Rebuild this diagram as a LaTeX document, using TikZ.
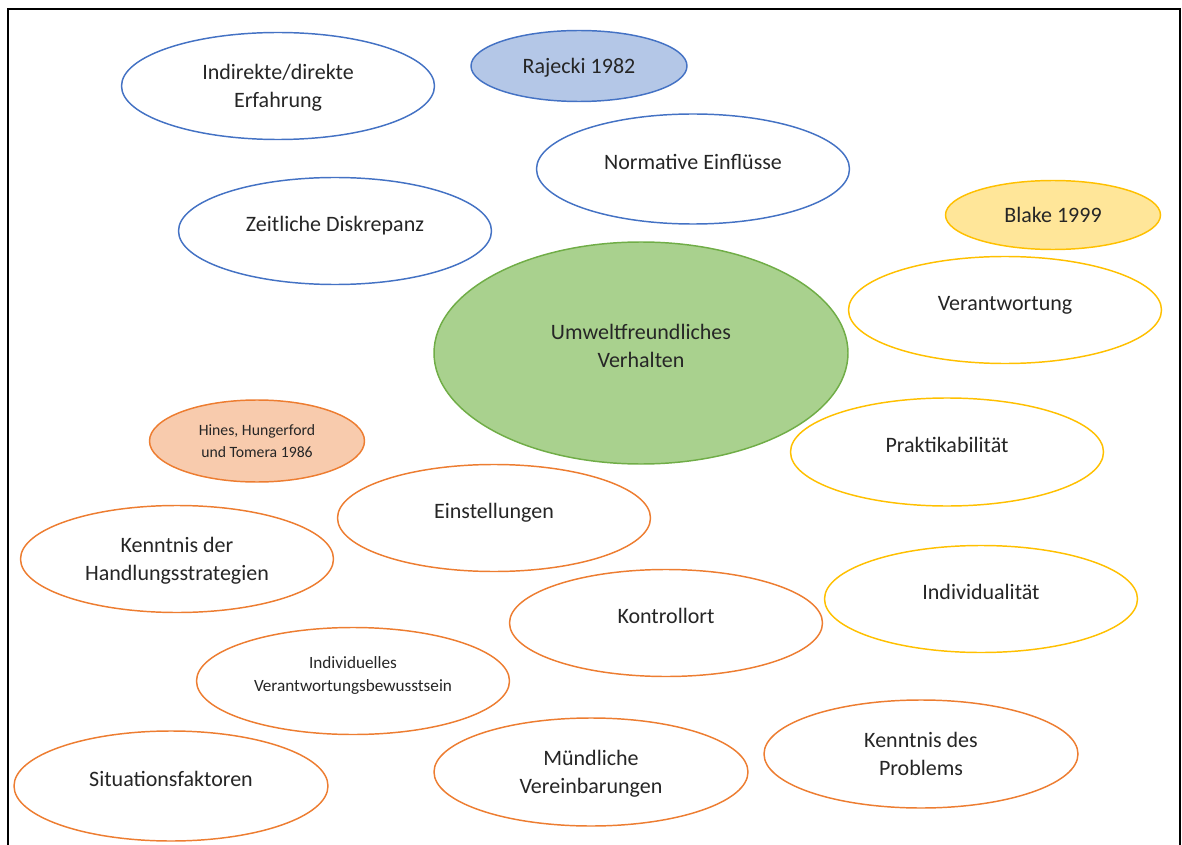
\documentclass[tikz,border=0pt]{standalone}
\usepackage{fontspec}
\setmainfont{Carlito}
\usetikzlibrary{shapes.geometric}

\definecolor{blueline}{HTML}{4472C4}
\definecolor{bluefill}{HTML}{B4C7E7}
\definecolor{yellowline}{HTML}{FFC000}
\definecolor{yellowfill}{HTML}{FFE699}
\definecolor{orangeline}{HTML}{ED7D31}
\definecolor{orangefill}{HTML}{F8CBAD}
\definecolor{greenline}{HTML}{70AD47}
\definecolor{greenfill}{HTML}{A9D18E}

\begin{document}
\begin{tikzpicture}[x=0.75pt,y=-0.75pt,
    bubble/.style={ellipse,draw=#1,fill=white,line width=1.1pt,inner sep=0pt,
        minimum width=313*0.75pt,minimum height=107*0.75pt,align=center,
        text=black!85,font=\fontsize{16.5}{21}\selectfont,text depth=0pt},
    lift/.style={text depth=10.5pt},
    dims/.style 2 args={minimum width=#1*0.75pt,minimum height=#2*0.75pt}]
    \useasboundingbox (0,0) rectangle (1182,845);
    \draw[line width=1.6pt] (8,880) -- (8,9) -- (1180,9) -- (1180,880);

    % Rajecki 1982
    \node[bubble=blueline] (erfahrung) at (278,86) {Indirekte/direkte\\Erfahrung};
    \node[bubble=blueline,fill=bluefill,dims={216}{71}] (rajecki) at (579,66) {Rajecki 1982};
    \node[bubble=blueline,lift,dims={313}{110}] (normativ) at (693,169) {Normative Einflüsse};
    \node[bubble=blueline,lift] (zeitlich) at (335,231) {Zeitliche Diskrepanz};

    % Blake 1999
    \node[bubble=yellowline,fill=yellowfill,dims={215}{69}] (blake) at (1053,215) {Blake 1999};
    \node[bubble=yellowline,lift] (verantwortung) at (1005,310) {Verantwortung};
    \node[bubble=yellowline,lift,dims={313}{108}] (praktikabel) at (947,452) {Praktikabilität};
    \node[bubble=yellowline,lift] (individualitaet) at (981,599) {Individualität};

    % centre
    \node[bubble=greenline,fill=greenfill,lift,dims={414}{222}] (verhalten) at (641,353) {Umweltfreundliches\\Verhalten};

    % Hines, Hungerford und Tomera 1986
    \node[bubble=orangeline,fill=orangefill,dims={215}{82},
        font=\fontsize{11.8}{16.5}\selectfont,text depth=0pt] (hines) at (257,441) {Hines, Hungerford\\und Tomera 1986};
    \node[bubble=orangeline,lift] (einstellung) at (494,518) {Einstellungen};
    \node[bubble=orangeline] (strategie) at (177,559) {Kenntnis der\\Handlungsstrategien};
    \node[bubble=orangeline,lift] (kontrolle) at (666,623) {Kontrollort};
    \node[bubble=orangeline,font=\fontsize{12.9}{17.25}\selectfont,text depth=11pt] (bewusstsein) at (353,681) {Individuelles\\Verantwortungsbewusstsein};
    \node[bubble=orangeline,lift,dims={314}{110}] (situation) at (171,786) {Situationsfaktoren};
    \node[bubble=orangeline,dims={314}{108}] (absprache) at (591,772) {Mündliche\\Vereinbarungen};
    \node[bubble=orangeline,dims={314}{108}] (problem) at (921,754) {Kenntnis des\\Problems};
\end{tikzpicture}
\end{document}
